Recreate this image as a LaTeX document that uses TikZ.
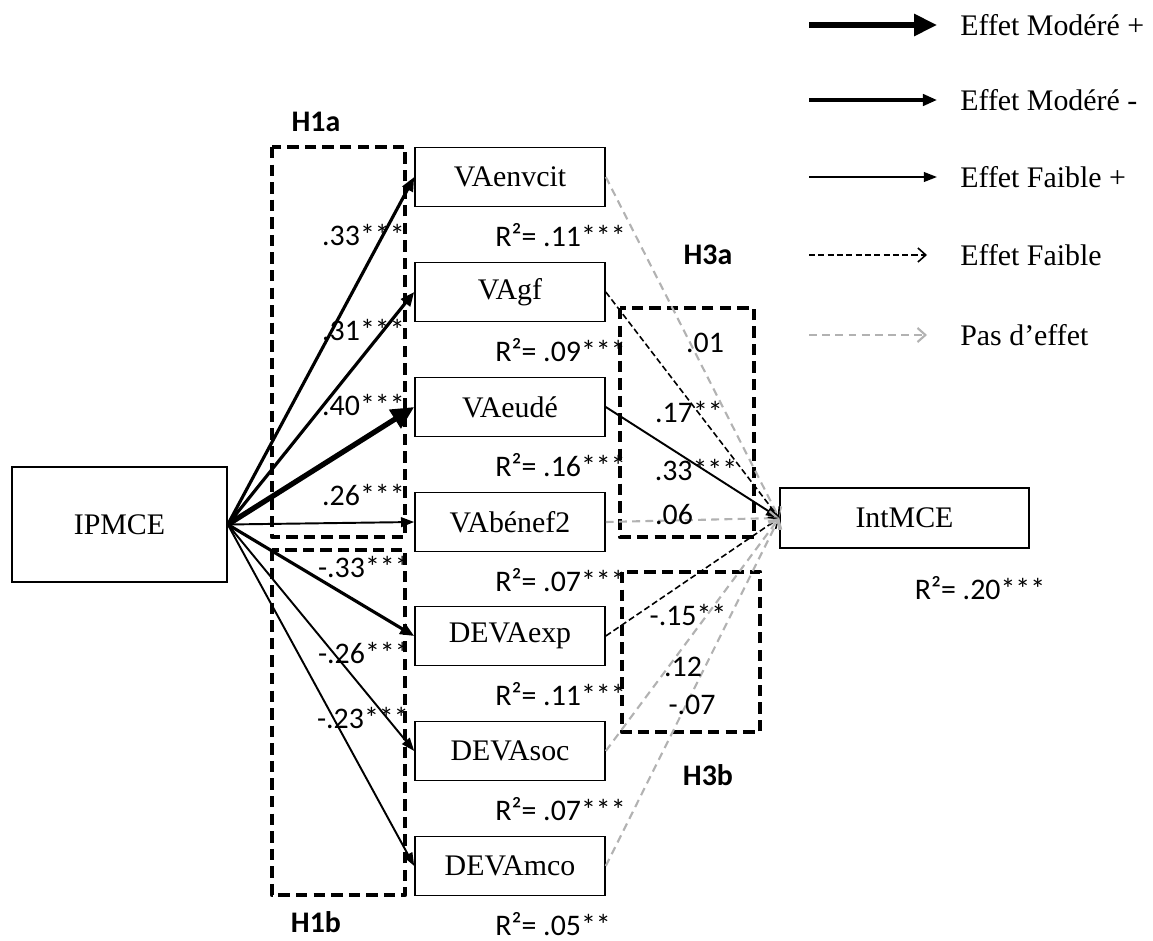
\documentclass[tikz,border=0pt]{standalone}
\usepackage{fontspec}
\setmainfont{Liberation Serif}
\newfontfamily\calibri{Carlito}
\usetikzlibrary{arrows.meta}

\tikzset{
  boite/.style={draw, line width=0.9pt, inner sep=0pt, minimum width=3.8cm, minimum height=1.18cm},
  coef/.style={font=\calibri\fontsize{17}{20}\selectfont, inner sep=0pt},
  hyp/.style={font=\calibri\bfseries\fontsize{17}{20}\selectfont, inner sep=0pt},
  cadre/.style={line width=2.6pt, dash pattern=on 6.5pt off 3.5pt, line join=round},
  modplus/.style={line width=3pt, -{Triangle[length=13pt,width=12pt]}},
  modmoins/.style={line width=1.8pt, -{Triangle[length=8pt,width=6.5pt]}},
  faibleplus/.style={line width=1.1pt, -{Triangle[length=7.5pt,width=5.5pt]}},
  faible/.style={line width=0.9pt, dash pattern=on 3.5pt off 1.8pt, -{Straight Barb[length=4.5pt,width=8pt]}},
  nul/.style={gray!60, line width=1.2pt, dash pattern=on 4.5pt off 3pt, -{Straight Barb[length=4.5pt,width=8pt]}},
}

\begin{document}
\begin{tikzpicture}[x=0.2mm, y=-0.2mm, every node/.style={font=\fontsize{17}{20}\selectfont}]
  \useasboundingbox (0,0) rectangle (1153,941);

  % cadres des hypotheses
  \draw[cadre] (272,147) rectangle (405,537);
  \draw[cadre] (272,550) rectangle (405,895);
  \draw[cadre] (620,308) rectangle (754,537);
  \draw[cadre] (622,572) rectangle (760,732);
  \node[hyp] (h1a) at (316,122) {H1a};
  \node[hyp] (h1b) at (316,922) {H1b};
  \node[hyp] (h3a) at (708,255) {H3a};
  \node[hyp] (h3b) at (708,775) {H3b};

  % variables
  \node[boite, minimum width=4.3cm, minimum height=2.3cm] (ipmce) at (119.5,524.5) {IPMCE};
  \node[boite, minimum width=4.98cm, minimum height=1.2cm] (intmce) at (904.5,518) {IntMCE};
  \node[coef] (rintmce) at (980,588) {R²= .20***};
  \foreach \nom/\txt/\y/\r in {vaenv/VAenvcit/177/.11***, vagf/VAgf/292/.09***, vaeude/VAeudé/407/.16***,
      vabenef/VAbénef2/522/.07***, devaexp/DEVAexp/636/.11***, devasoc/DEVAsoc/751/.07***, devamco/DEVAmco/866/.05**} {
    \node[boite] (\nom) at (510,\y) {\txt};
    \node[coef, anchor=west] (r\nom) at (495,\y+58) {R²= \r};
  }

  % H1
  \draw[modmoins] (ipmce.east) -- (vaenv.west);
  \draw[modmoins] (ipmce.east) -- (vagf.west);
  \draw[modplus] (ipmce.east) -- (vaeude.west);
  \draw[faibleplus] (ipmce.east) -- (vabenef.west);
  \draw[modmoins] (ipmce.east) -- (devaexp.west);
  \draw[faibleplus] (ipmce.east) -- (devasoc.west);
  \draw[faibleplus] (ipmce.east) -- (devamco.west);
  \node[coef, anchor=east] (c1) at (405,235) {.33***};
  \node[coef, anchor=east] (c2) at (405,330) {.31***};
  \node[coef, anchor=east] (c3) at (405,405) {.40***};
  \node[coef, anchor=east] (c4) at (405,495) {.26***};
  \node[coef, anchor=east] (c5) at (410,567) {-.33***};
  \node[coef, anchor=east] (c6) at (410,653) {-.26***};
  \node[coef, anchor=east] (c7) at (409,718) {-.23***};

  % H3
  \draw[nul] (vaenv.east) -- (intmce.west);
  \draw[faible] (vagf.east) -- (intmce.west);
  \draw[faibleplus] (vaeude.east) -- (intmce.west);
  \draw[nul] (vabenef.east) -- (intmce.west);
  \draw[faible] (devaexp.east) -- (intmce.west);
  \draw[nul] (devasoc.east) -- (intmce.west);
  \draw[nul] (devamco.east) -- (intmce.west);
  \node[coef] (d1) at (705,343) {.01};
  \node[coef] (d2) at (689,412) {.17**};
  \node[coef] (d3) at (696,470) {.33***};
  \node[coef] (d4) at (674,515) {.06};
  \node[coef] (d5) at (688,615) {-.15**};
  \node[coef] (d6) at (683,667) {.12};
  \node[coef] (d7) at (692,705) {-.07};

  % legende
  \foreach \i/\y/\sty/\fin/\txt in {1/25/modplus/937/Effet Modéré +, 2/100/modmoins/937/Effet Modéré -,
      3/177/faibleplus/937/Effet Faible +, 4/255/faible/927/Effet Faible, 5/335/nul/927/Pas d’effet} {
    \coordinate (leg\i) at (809,\y);
    \coordinate (legf\i) at (\fin,\y);
    \draw[\sty] (leg\i) -- (legf\i);
    \node[anchor=west, inner sep=0pt] (legt\i) at (960,\y) {\txt};
  }
\end{tikzpicture}
\end{document}
